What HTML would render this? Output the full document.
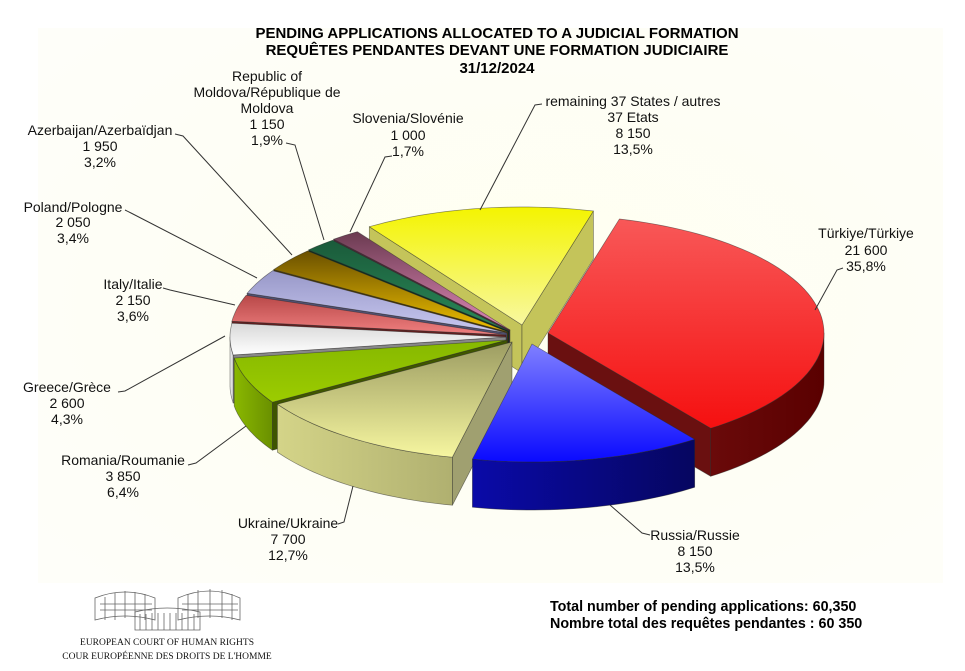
<!DOCTYPE html>
<html><head><meta charset="utf-8">
<style>
html,body{margin:0;padding:0;background:#fff;}
svg{display:block;font-family:"Liberation Sans",Arial,sans-serif;}
</style></head>
<body>
<svg id="s" width="965" height="671" viewBox="0 0 965 671" xmlns="http://www.w3.org/2000/svg">
<defs>
<radialGradient id="bg" cx="0.55" cy="0.5" r="0.7">
<stop offset="0" stop-color="#fffff0"/><stop offset="1" stop-color="#fefef9"/>
</radialGradient>
</defs>
<rect x="0" y="0" width="965" height="671" fill="#fff"/>
<rect x="38" y="28" width="905" height="555" fill="url(#bg)"/>
<g font-weight="bold" font-size="15" text-anchor="middle" fill="#000">
<text x="497" y="38">PENDING APPLICATIONS ALLOCATED TO A JUDICIAL FORMATION</text>
<text x="497" y="55">REQUÊTES PENDANTES DEVANT UNE FORMATION JUDICIAIRE</text>
<text x="497" y="73">31/12/2024</text>
</g>
<g id="pie"></g>
<g stroke="#333" stroke-width="1" fill="none">
<polyline points="175,134 183,136 292,255"/>
<polyline points="286,143 295,145 324,240"/>
<polyline points="392,156 385,157 350,232"/>
<polyline points="125,210 131,213 257,278"/>
<polyline points="163,288 170,290 235,305"/>
<polyline points="118,392 125,391 225,336"/>
<polyline points="188,465 196,463 246,426"/>
<polyline points="338,524 344,522 353,486"/>
<polyline points="542,104 535,105 480,210"/>
<polyline points="843,268 837,270 815,310"/>
<polyline points="650,535 642,533 610,505"/>
</g>
<g font-size="14" text-anchor="middle" fill="#111">
<text x="267" y="81">Republic of</text><text x="267" y="97">Moldova/République de</text><text x="267" y="113">Moldova</text><text x="267" y="129">1 150</text><text x="267" y="145">1,9%</text>
<text x="100" y="135">Azerbaijan/Azerbaïdjan</text><text x="100" y="151">1 950</text><text x="100" y="167">3,2%</text>
<text x="408" y="123">Slovenia/Slovénie</text><text x="408" y="140">1 000</text><text x="408" y="156">1,7%</text>
<text x="73" y="212">Poland/Pologne</text><text x="73" y="227">2 050</text><text x="73" y="243">3,4%</text>
<text x="133" y="289">Italy/Italie</text><text x="133" y="305">2 150</text><text x="133" y="321">3,6%</text>
<text x="67" y="392">Greece/Grèce</text><text x="67" y="408">2 600</text><text x="67" y="424">4,3%</text>
<text x="123" y="465">Romania/Roumanie</text><text x="123" y="481">3 850</text><text x="123" y="497">6,4%</text>
<text x="288" y="528">Ukraine/Ukraine</text><text x="288" y="544">7 700</text><text x="288" y="560">12,7%</text>
<text x="633" y="106">remaining 37 States / autres</text><text x="633" y="122">37 Etats</text><text x="633" y="138">8 150</text><text x="633" y="154">13,5%</text>
<text x="866" y="238">Türkiye/Türkiye</text><text x="866" y="255">21 600</text><text x="866" y="271">35,8%</text>
<text x="695" y="540">Russia/Russie</text><text x="695" y="556">8 150</text><text x="695" y="572">13,5%</text>
</g>
<g font-size="14.3" font-weight="bold" fill="#000">
<text x="550" y="611">Total number of pending applications:  60,350</text>
<text x="550" y="628">Nombre total des requêtes pendantes : 60 350</text>
</g>
<g stroke="#666" stroke-width="0.8" fill="none">
<path d="M95,598 Q125,586 155,598 L155,620 Q125,612 95,620 Z"/>
<path d="M178,598 Q210,584 240,598 L240,620 Q210,612 178,620 Z"/>
<path d="M135,612 Q167,604 200,612 L200,630 L135,630 Z"/>
<path d="M100,604 H152 M100,610 H152 M182,604 H238 M182,610 H238 M105,597 V620 M115,593 V620 M125,591 V618 M135,592 V618 M145,594 V620 M188,594 V620 M198,590 V618 M210,589 V618 M222,590 V618 M232,594 V620 M140,614 V630 M146,614 V630 M152,613 V630 M158,613 V630 M164,613 V630 M170,613 V630 M176,613 V630 M182,613 V630 M188,613 V630 M194,614 V630"/>
</g>
<g font-family="'Liberation Serif',serif" font-size="9.5" text-anchor="middle" fill="#111">
<text x="167" y="645">EUROPEAN COURT OF HUMAN RIGHTS</text>
<text x="167" y="659">COUR EUROPÉENNE DES DROITS DE L'HOMME</text>
</g>
</svg>
<script>
(function(){
var NS="http://www.w3.org/2000/svg";
var svg=document.getElementById('s'),defs=svg.querySelector('defs'),g=document.getElementById('pie');
var cx=512,cy=335,rx=276,ry=118,D=48;
var sl=[
{p:35.8,off:[36,-2],t1:'#f85858',t2:'#f51010',w1:'#6a0a0a',w2:'#5a0000',c:'#6a1010'},
{p:13.5,off:[20,9],t1:'#8080ff',t2:'#0a0aff',w1:'#0a0aa8',w2:'#060660',c:'#05058a'},
{p:12.7,off:[0,7],t1:'#9c9c62',t2:'#f6f6a0',w1:'#d4d488',w2:'#b0b070',c:'#a0a070'},
{p:6.4,off:[-5,5],t1:'#86b800',t2:'#9ccc00',w1:'#8ab800',w2:'#6a9000',c:'#3f5500'},
{p:4.3,off:[-6,2],t1:'#d8d8d8',t2:'#ffffff',w1:'#f0f0f0',w2:'#cfcfcf',c:'#888'},
{p:3.6,off:[-6,0],t1:'#b84848',t2:'#f08080',w1:'#d06060',w2:'#a04040',c:'#602020'},
{p:3.4,off:[-5,-2],t1:'#9898c8',t2:'#c8c8f0',w1:'#b0b0e0',w2:'#8888b8',c:'#505070'},
{p:3.2,off:[-4,-3],t1:'#6a5000',t2:'#f0c000',w1:'#c09000',w2:'#806000',c:'#4a3800'},
{p:1.9,off:[-3,-4],t1:'#1a5a3a',t2:'#2a8a58',w1:'#207048',w2:'#104028',c:'#0a3020'},
{p:1.7,off:[-2,-5],t1:'#6a3a50',t2:'#e088b8',w1:'#a06080',w2:'#704058',c:'#502838'},
{p:13.5,off:[10,-10],t1:'#f4f400',t2:'#f8f8a0',w1:'#d8d850',w2:'#b8b830',c:'#c4c45a'}
];
var a=-75;
sl.forEach(function(s,i){s.a1=a;a+=s.p*3.6;s.a2=a;s.m=(s.a1+s.a2)/2;s.i=i;});
function R(d){return d*Math.PI/180;}
function P(s,t,dz){return [cx+s.off[0]+rx*Math.cos(R(t)),cy+s.off[1]+ry*Math.sin(R(t))+(dz||0)];}
function f(p){return p[0].toFixed(1)+','+p[1].toFixed(1);}
function grad(id,x2,y2,c1,c2){var lg=document.createElementNS(NS,'linearGradient');lg.setAttribute('id',id);lg.setAttribute('x1','0');lg.setAttribute('y1','0');lg.setAttribute('x2',x2);lg.setAttribute('y2',y2);
lg.innerHTML='<stop offset="0" stop-color="'+c1+'"/><stop offset="1" stop-color="'+c2+'"/>';defs.appendChild(lg);}
function path(d,fill){var e=document.createElementNS(NS,'path');e.setAttribute('d',d);e.setAttribute('fill',fill);e.setAttribute('stroke','rgba(40,40,40,0.55)');e.setAttribute('stroke-width','0.7');e.setAttribute('stroke-linejoin','round');g.appendChild(e);}
var order=sl.slice().sort(function(A,B){return Math.sin(R(A.m))-Math.sin(R(B.m));});
order.forEach(function(s){
 grad('t'+s.i,'0','1',s.t1,s.t2);grad('w'+s.i,'1','0',s.w1,s.w2);
 var T=[cx+s.off[0],cy+s.off[1]];var Td=[T[0],T[1]+D];
 var walls=[];
 if(Math.cos(R(s.a1))<0)walls.push(s.a1);
 if(Math.cos(R(s.a2))>0)walls.push(s.a2);
 walls.forEach(function(w){var p=P(s,w),pd=P(s,w,D);path('M'+f(T)+'L'+f(p)+'L'+f(pd)+'L'+f(Td)+'Z',s.c);});
 var b1=Math.max(s.a1,0),b2=Math.min(s.a2,180);
 if(b2>b1){var d='M'+f(P(s,b1));var n=30;
  for(var k=1;k<=n;k++)d+='L'+f(P(s,b1+(b2-b1)*k/n));
  for(var k=n;k>=0;k--)d+='L'+f(P(s,b1+(b2-b1)*k/n,D));
  path(d+'Z','url(#w'+s.i+')');}
 var d='M'+f(T);var n=Math.max(6,Math.ceil((s.a2-s.a1)/2));
 for(var k=0;k<=n;k++)d+='L'+f(P(s,s.a1+(s.a2-s.a1)*k/n));
 path(d+'Z','url(#t'+s.i+')');
});
})();
</script>
</body></html>
